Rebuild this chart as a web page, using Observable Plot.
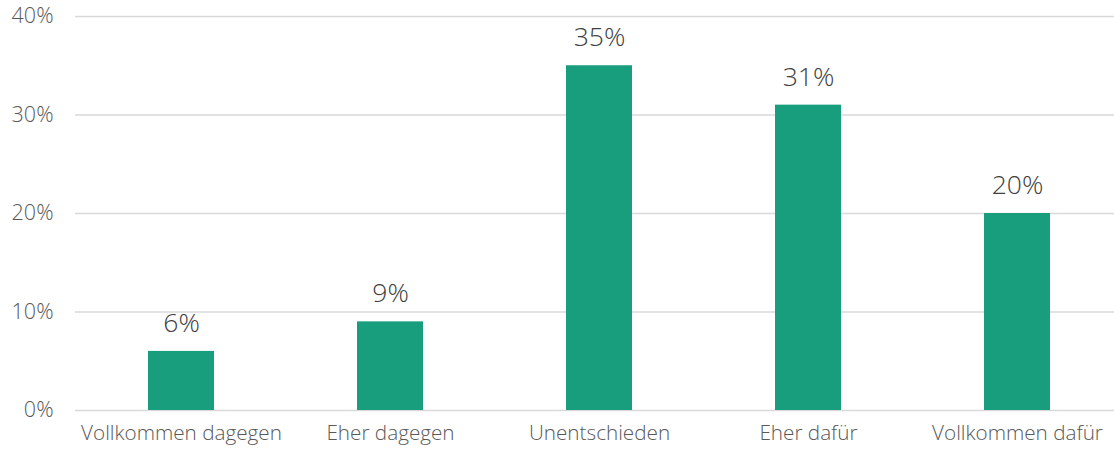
<!DOCTYPE html>
<html>
<head>
<meta charset="utf-8">
<script src="https://cdn.jsdelivr.net/npm/d3@7"></script>
<script src="https://cdn.jsdelivr.net/npm/@observablehq/plot@0.6"></script>
<style>
  html, body { margin: 0; padding: 0; background: #fff; }
  #chart svg { display: block; }
</style>
</head>
<body>
<div id="chart"></div>
<script>
// Survey answers and their shares (percent)
const categories = ["Vollkommen dagegen", "Eher dagegen", "Unentschieden", "Eher dafür", "Vollkommen dafür"];
const shares = [6, 9, 35, 31, 20];
const yTicks = [0, 10, 20, 30, 40];

const data = categories.map((c, i) => ({answer: c, share: shares[i]}));

const fontFamily = "'Open Sans', 'Noto Sans', sans-serif";

const chart = Plot.plot({
  width: 1114,
  height: 449,
  marginLeft: 75,
  marginRight: 0,
  marginTop: 16,
  marginBottom: 39,
  style: {fontFamily, background: "#fff", fontWeight: 300},
  x: {
    domain: categories,
    range: [75, 1122],
    paddingInner: 0.685,
    paddingOuter: 0.3425,
    label: null,
    tickSize: 0,
    tickPadding: 0
  },
  y: {
    domain: [0, 40],
    label: null,
    ticks: yTicks,
    tickSize: 0,
    tickFormat: d => d + "%"
  },
  marks: [
    Plot.gridY(yTicks, {stroke: "#d9d9d9", strokeOpacity: 1, strokeWidth: 1.6}),
    Plot.barY(data, {x: "answer", y: "share", fill: "#189d7d"}),
    Plot.text(data, {
      x: "answer", y: "share",
      text: d => d.share + "%",
      dy: -28, fontSize: 26.5, fill: "#404040", fontWeight: 300
    }),
    Plot.axisY(yTicks, {
      tickSize: 0, tickPadding: 22, fontSize: 21.5, fill: "#595959", fontWeight: 300,
      tickFormat: d => d + "%", label: null
    }),
    Plot.axisX({
      tickSize: 0, tickPadding: 15, fontSize: 20.7, fill: "#595959", fontWeight: 300, label: null
    })
  ]
});

document.getElementById("chart").appendChild(chart);
</script>
</body>
</html>
